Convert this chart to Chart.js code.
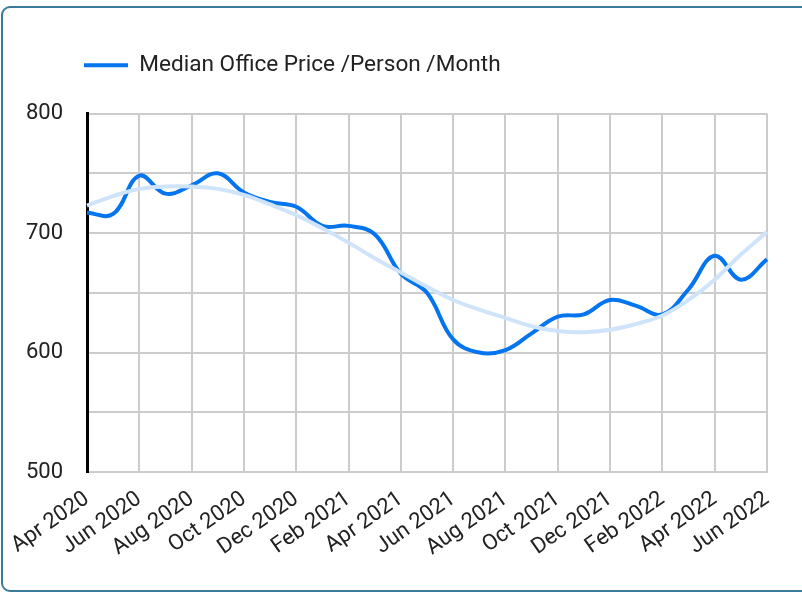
<!DOCTYPE html>
<html>
<head>
<meta charset="utf-8">
<script src="https://cdn.jsdelivr.net/npm/chart.js@4"></script>
<style>
  html, body { margin: 0; padding: 0; background: #fff; }
  body { width: 802px; height: 592px; position: relative; overflow: hidden; }
  #frame {
    position: absolute; left: 1px; top: 6px; width: 840px; height: 586px;
    box-sizing: border-box; border: 2px solid #387b9d; border-radius: 9px;
  }
  #chart { position: absolute; left: 0; top: 0; }
</style>
</head>
<body>
<div id="frame"></div>
<canvas id="chart" width="802" height="592"></canvas>
<script>
// monthly, Apr 2020 .. Jun 2022
const months = [
  'Apr 2020', 'May 2020', 'Jun 2020', 'Jul 2020', 'Aug 2020', 'Sep 2020', 'Oct 2020',
  'Nov 2020', 'Dec 2020', 'Jan 2021', 'Feb 2021', 'Mar 2021', 'Apr 2021', 'May 2021',
  'Jun 2021', 'Jul 2021', 'Aug 2021', 'Sep 2021', 'Oct 2021', 'Nov 2021', 'Dec 2021',
  'Jan 2022', 'Feb 2022', 'Mar 2022', 'Apr 2022', 'May 2022', 'Jun 2022'
];
const medianPrice = [717, 716, 748, 733, 740, 750, 734, 726, 722, 706, 706, 699, 666, 650,
  611, 600, 602, 616, 630, 632, 644, 639, 632, 653, 681, 661, 678];
const trendLine = [723, 731, 737, 739, 739, 737, 732, 724, 715, 704, 692, 679, 667, 655,
  644, 636, 629, 622, 618, 617, 619, 624, 631, 644, 661, 682, 701];
const yMin = 500, yMax = 800, yStep = 50;

const font = { family: 'Roboto', size: 22 };

// legend sits further right than the y labels and higher above the plot
const legendShift = {
  id: 'legendShift',
  afterLayout(chart) {
    chart.legend.left += 48;
    chart.legend.top -= 27;
  }
};

new Chart(document.getElementById('chart').getContext('2d'), {
  type: 'line',
  data: {
    labels: months,
    datasets: [
      {
        label: 'Trend',
        data: trendLine,
        borderColor: '#cfe4fb',
        backgroundColor: '#cfe4fb',
        borderWidth: 4,
        pointRadius: 0,
        tension: 0.4,
        order: 0
      },
      {
        label: 'Median Office Price /Person /Month',
        data: medianPrice,
        borderColor: '#0474ef',
        backgroundColor: '#0474ef',
        borderWidth: 4,
        pointRadius: 0,
        tension: 0.4,
        order: 1
      }
    ]
  },
  options: {
    responsive: false,
    animation: false,
    layout: { padding: { top: 45, right: 35, left: 0, bottom: 0 } },
    plugins: {
      tooltip: { enabled: false },
      legend: {
        align: 'start',
        labels: {
          filter: item => item.text !== 'Trend',
          generateLabels(chart) {
            const items = Chart.defaults.plugins.legend.labels.generateLabels(chart);
            items.forEach(it => { it.lineWidth = 0; });
            return items;
          },
          boxWidth: 44,
          boxHeight: 4,
          padding: 36,
          color: '#222',
          font: { family: 'Roboto', size: 22.6 }
        }
      }
    },
    scales: {
      x: {
        afterFit(s) { s.height = 120; },
        grid: { color: '#cccccc', lineWidth: 2, drawTicks: false },
        border: { color: '#cccccc', width: 2 },
        ticks: {
          autoSkip: false,
          maxRotation: 35,
          minRotation: 35,
          padding: 14,
          color: '#222',
          font: font,
          callback(v, i) { return i % 2 === 0 ? months[i] : null; }
        }
      },
      y: {
        min: yMin,
        max: yMax,
        afterFit(s) { s.width = 87; },
        grid: { color: '#cccccc', lineWidth: 2, drawTicks: false },
        border: { color: '#000', width: 3 },
        ticks: {
          stepSize: yStep,
          padding: 24,
          color: '#222',
          font: font,
          callback(v) { return v % 100 === 0 ? v : ''; }
        }
      }
    }
  },
  plugins: [legendShift]
});
</script>
</body>
</html>
